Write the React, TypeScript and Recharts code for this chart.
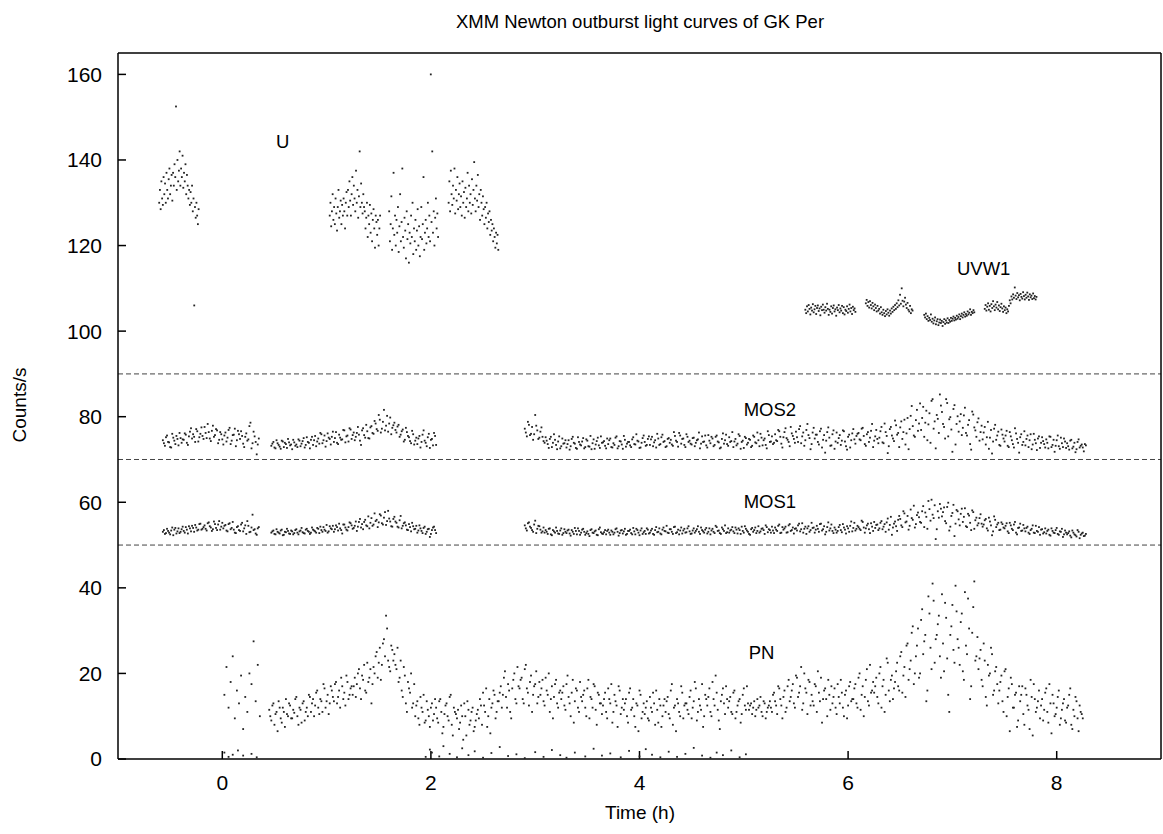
import React from 'react';
import { ScatterChart, Scatter, XAxis, YAxis, ReferenceLine, ReferenceDot } from 'recharts';

// time axis (h) and count axis ticks
const xTicks = [0, 2, 4, 6, 8];
const yTicks = [0, 20, 40, 60, 80, 100, 120, 140, 160];
const bandLines = [90, 70, 50];

// OM U filter, 4 exposures (sampled every uStep hours)
const uStarts = [-0.605, 1.03, 1.6, 2.17];
const uStep = 0.007;
const u1 = [
  130, 133, 128.5, 135, 131, 129.5, 136, 132, 134.5, 130,
  137, 133, 131, 135.5, 138, 132, 134, 136.5, 130.5, 137,
  134, 139, 136, 152.5, 133, 140, 135, 137.5, 142, 134,
  138, 136, 141, 133.5, 137, 135, 139, 132, 136.5, 134,
  131, 133, 129.5, 132.5, 130, 134, 128, 131, 106, 129,
  126.5, 130, 127, 125, 128.5,
];
const u2 = [
  127, 130, 124.5, 128, 132, 126, 129, 125, 131, 127.5,
  123.5, 129, 133, 126.5, 128, 130.5, 125, 129.5, 127, 131,
  128, 124, 130, 132.5, 127,
  133, 129, 135, 130.5, 127, 132, 136, 129.5, 134, 131,
  128, 137.5, 130, 133, 126.5, 131.5, 142, 129, 134.5, 130,
  127.5, 132, 129,
  128, 124, 126.5, 130, 122, 127, 125, 129.5, 123, 127.5,
  121, 126, 128.5, 124, 119.5, 127, 125.5, 122.5, 126, 120,
  124, 127,
];
const u3 = [
  128, 121, 125, 131.5, 119, 124, 137, 122.5, 127, 120,
  126, 123, 129, 118.5, 124.5, 132, 121, 125.5, 138, 122,
  119.5, 126.5, 123.5, 117, 128, 121.5, 125, 116, 123, 120.5,
  127, 122, 130, 118, 124, 121, 126, 119, 123.5, 128.5,
  120, 124.5, 117.5, 122, 129, 121.5, 125, 136, 119, 123,
  126, 120.5, 124, 130, 122, 127, 121, 160, 125.5, 142,
  123, 128, 120, 126.5, 131, 124, 127.5, 122,
];
const u4 = [
  130, 135, 128, 137.5, 132, 129.5, 134, 131, 138, 127.5,
  133, 130.5, 136, 128.5, 132, 134.5, 129, 131.5, 127, 135,
  130, 132.5, 126.5, 133.5, 129, 131, 137, 128, 134, 130,
  132, 127.5, 135.5, 129.5, 133, 139.5, 131, 128, 134, 130.5,
  136.5, 129, 132, 126, 133, 130, 127, 131.5, 128.5, 125,
  129, 126.5, 130, 124, 127.5, 125.5, 128, 122.5, 126, 123.5,
  125, 121, 124, 122, 119.5, 123, 120.5, 122.5, 119,
];

// OM UVW1 filter, 4 exposures
const uvwStarts = [5.59, 6.17, 6.73, 7.31];
const uvwStep = 0.008;
const uvw1 = [
  105, 104.2, 105.8, 104.6, 106.1, 105.2, 103.9, 105.5, 104.8, 106.3,
  104.4, 105.1, 105.9, 104, 105.4, 106, 104.7, 105.3, 103.7, 105.7,
  104.9, 106.2, 105, 104.3, 105.6, 104.8, 106.4, 105.2, 103.8, 105,
  104.5, 105.8, 104.1, 105.4, 106, 104.6, 105.1, 103.6, 105.5, 104.9,
  106.1, 104.4, 105.3, 104.8, 105.9, 104.2, 105.6, 103.9, 105, 104.7,
  105.8, 104.3, 105.2, 106.2, 104.6, 105.4, 104, 105.7, 104.9, 105.3, 104.5,
];
const uvw2 = [
  106.5, 107.3, 105.9, 106.8, 105.5, 107, 106.1, 105.3, 106.6, 105.8,
  104.9, 106.2, 105.4, 104.6, 105.9, 104.8, 105.2, 104.1, 105.6, 104.4,
  103.8, 105, 104.2, 103.5, 104.7, 103.9, 105.1, 104.3, 103.6, 104.8,
  104.1, 105.3, 104.5, 105.7, 104.9, 106.1, 105.2, 106.5, 105.6, 107.2,
  106, 108.5, 106.4, 110, 107.1, 105.8, 106.9, 107.8, 106.2, 105.4,
  106.6, 105, 104.6, 105.9, 104.2, 105.1, 104.8,
];
const uvw3 = [
  103.8, 103.2, 104.1, 102.8, 103.5, 102.4, 103.1, 102.6, 103.9, 102.2,
  102.9, 101.8, 102.5, 103.2, 101.6, 102.3, 102.8, 101.4, 102, 102.7,
  101.9, 102.4, 101.2, 102.1, 102.8, 101.7, 102.5, 102, 103, 101.9,
  102.6, 102.2, 103.1, 102.4, 102.9, 103.4, 102.5, 103.1, 102.7, 103.6,
  102.9, 103.3, 103.9, 102.8, 103.5, 104.1, 103.2, 103.8, 104.4, 103.4,
  104, 103.6, 104.6, 103.9, 104.3, 105.1, 103.8, 104.5, 104.2, 104.9, 104.4,
];
const uvw4 = [
  105.2, 106.1, 104.8, 105.7, 106.5, 105, 105.9, 104.6, 106.3, 105.4,
  107, 105.8, 104.9, 106.2, 105.5, 106.8, 105.1, 106, 104.7, 105.6,
  106.4, 105.3, 104.5, 105.8, 104.9, 105.5, 104.2, 105.1, 104.6, 105.9,
  107.2, 106.5, 108.1, 107.4, 108.6, 107.8, 110.2, 108.3, 107.5, 108.9,
  107.9, 108.4, 107.2, 108.7, 108, 107.6, 109.1, 108.2, 107.4, 108.5,
  107.8, 109, 108.1, 107.3, 108.6, 107.9, 108.3, 107.5, 108.8, 107.7,
  108.2, 107.4, 108,
];

// EPIC MOS: two interleaved passes, each sampled every mosStep hours
const mosStarts = [-0.57, 0.47, 2.9];
const mosStarts2 = [-0.56, 0.48, 2.91];
const mosStep = 0.02;

// MOS2 (offset +70)
const mos2A = [
  74.5, 73.2, 75.6, 74, 72.8, 75.1, 73.6, 74.8, 76.2, 73.9,
  74.6, 75.8, 73.4, 76.5, 74.9, 75.3, 77.1, 74.2, 76, 75.5,
  77.6, 75, 76.4, 74.3, 77.9, 75.7, 76.8, 74.6, 75.9, 73.5,
  76.3, 75.1, 77.4, 74.4, 75.8, 73.1, 76.7, 74.8, 75.5, 72.9,
  76.1, 74.7, 78.6, 73.8, 75.4, 71.2, 74.9,
];
const mos2A2 = [
  73.8, 75.2, 74.1, 72.9, 76, 74.4, 75.5, 73.3, 75, 74.7,
  76.1, 73.9, 75.4, 77.3, 75.9, 74.1, 76.6, 75.2, 77.5, 74.8,
  76.2, 78.3, 74.9, 76.7, 75.3, 77.1, 73.8, 76.4, 74.7, 75.6,
  74.2, 76.9, 73.6, 75.7, 77.2, 74.5, 75.9, 76.6, 73.7, 75.3,
  74.4, 77.8, 72.6, 76.5, 74.1, 73.5,
];
const mos2B = [
  73.2, 74.1, 72.6, 73.8, 73, 74.4, 72.9, 73.6, 74.8, 73.3,
  72.4, 74, 73.5, 74.7, 73.1, 74.3, 72.8, 75.2, 73.9, 74.6,
  73.4, 75.5, 74.2, 73.7, 75.9, 74.5, 73, 76.1, 74.8, 75.3,
  74.1, 76.4, 73.6, 75.1, 74.7, 76.8, 75.4, 74.2, 77, 75.7,
  74.5, 76.2, 75.8, 73.4, 77.3, 75.1, 76.6, 74.9, 77.8, 76,
  78.4, 76.7, 79.3, 77.2, 81.6, 77.9, 76.5, 79.8, 77.4, 78.6,
  76.3, 78.1, 75.8, 77, 74.6, 76.4, 75.2, 73.8, 75.9, 74.4,
  73.6, 75.5, 74.1, 76.8, 73.9, 75.2, 72.7, 74.8, 76.2, 73.4,
];
const mos2B2 = [
  73.7, 72.8, 74.5, 73.4, 72.5, 74.2, 73.9, 72.7, 74, 73.5,
  74.6, 73.2, 72.9, 74.4, 73.7, 75, 73.4, 74.1, 72.6, 75.3,
  74.5, 73.1, 74.9, 76.2, 73.8, 75.6, 74.3, 75.1, 73.5, 76.5,
  75, 73.9, 75.8, 74.6, 76.9, 74, 75.6, 77.3, 74.8, 76.3,
  75.3, 77.6, 74.4, 76.8, 75.7, 78.1, 75, 77.5, 76.2, 79,
  77.1, 80.4, 76.3, 78.8, 76.8, 80.2, 78.4, 75.9, 78, 76.9,
  77.7, 75.3, 76.6, 74.2, 77.4, 75.5, 74.3, 76.7, 73.5, 75.1,
  74.9, 72.8, 75.8, 74.4, 73.1, 76, 74.6, 73.3, 75.5,
];
const mos2C = [
  77.2, 75.4, 78.1, 76, 74.6, 80.4, 76.8, 75.1, 77.5, 74.3,
  75.2, 73.6, 74.8, 72.9, 75.9, 73.4, 74.2, 72.6, 74.9, 73.8,
  72.8, 74.5, 73.1, 75.3, 73.7, 72.5, 74.1, 73.3, 75, 72.9,
  74.4, 73, 72.4, 74.7, 73.5, 75.1, 72.7, 73.9, 74.3, 72.6,
  73.6, 74.9, 72.8, 73.4, 75.4, 73.1, 74.2, 72.5, 74.6, 73.7,
  74.1, 72.9, 75.2, 73.5, 74.4, 72.7, 73.9, 75.6, 73.2, 74.8,
  73.4, 75.3, 74, 72.8, 74.9, 73.6, 75.8, 74.3, 73.1, 75,
  74.6, 73.2, 75.5, 74.1, 76.2, 73.7, 74.9, 72.9, 75.3, 74.4,
  73.5, 75.1, 73.9, 74.7, 72.6, 75.4, 74.2, 73.3, 75.7, 73.8,
  74.9, 73.4, 75.6, 74, 72.8, 76.1, 74.5, 73.6, 75.2, 74.3,
  72.9, 74.8, 73.7, 75.5, 74.1, 72.7, 75, 73.9, 74.6, 73.2,
  75.3, 73.8, 74.5, 76, 73.3, 74.9, 72.6, 75.7, 74.2, 73.6,
  75.9, 74.3, 76.6, 73.7, 75.2, 77.3, 74.6, 73.1, 76.1, 74.8,
  76.5, 74.1, 77.8, 75.4, 73.2, 76.9, 75.7, 72.4, 76.3, 74.9,
  75.8, 73.5, 77.2, 74.6, 71.6, 76.4, 75.1, 73.3, 76.8, 74.2,
  73.9, 75.7, 74.4, 76.6, 73.1, 75.3, 72.8, 76.1, 74.7, 75.5,
  76.2, 74.5, 77.4, 73.6, 75.9, 74.1, 76.7, 72.9, 75.4, 74.8,
  75.1, 77.6, 73.8, 76.4, 71.5, 77.1, 75.6, 74.3, 78, 76.2,
  77.5, 74.8, 79.3, 76.1, 72.4, 80.2, 77.8, 75.3, 81.6, 78.4,
  76.9, 82.3, 78.6, 74.5, 80.8, 83.7, 77.2, 72.6, 79.5, 85.2,
  81.1, 77.6, 84.1, 75.4, 79.9, 71.8, 82.7, 78.3, 76.5, 80.6,
  77.4, 82.1, 75.6, 79.2, 72.3, 80.5, 76.8, 78.7, 74.4, 77.9,
  76.3, 73.5, 78.8, 75.1, 71.4, 77.2, 74.6, 76.5, 73.2, 75.8,
  74.2, 76.7, 72.9, 75.4, 73.6, 77.3, 74.8, 71.6, 75.9, 74.1,
  73.3, 75.6, 74.5, 72.4, 76, 73.8, 74.9, 72.7, 75.2, 73.6,
  74.7, 72.6, 75.3, 73.4, 71.8, 74.5, 73.1, 75.1, 72.9, 74.2,
  73.8, 72.3, 74.6, 73, 71.7, 74.1, 72.8, 73.5, 71.9, 73.3,
];
const mos2C2 = [
  76.3, 78.8, 75.7, 77.6, 75.9, 77.9, 74.8, 76.5, 75.3, 73.9,
  74.4, 72.7, 75.3, 73.9, 74.6, 72.4, 75.4, 73.1, 73.7, 74.5,
  73.6, 72.3, 74.8, 73.9, 72.7, 75.2, 73.5, 74.2, 72.6, 74.7,
  73.1, 75.5, 73.8, 72.5, 74.3, 73.3, 75.4, 74, 73.2, 74.9,
  74.5, 72.9, 73.8, 75.1, 72.6, 74.3, 73.5, 75.5, 73, 74.1,
  73.3, 74.7, 73.6, 75.9, 74.2, 72.8, 75, 74.1, 73.4, 75.4,
  74.7, 73.1, 74.5, 76, 73.4, 75.2, 74.1, 72.9, 74.8, 73.9,
  73.5, 76.4, 74.4, 73, 75.6, 74.8, 73.4, 75.9, 74.1, 73.7,
  75, 73.1, 74.5, 76.3, 73.7, 74.1, 75.6, 72.8, 74.4, 75.3,
  73.1, 75.3, 74.2, 72.6, 74.8, 73.7, 75.8, 73.2, 74.1, 76.4,
  74.2, 73.3, 75.9, 72.5, 74.4, 75.3, 73.5, 74.8, 72.9, 75.6,
  74, 76.3, 73.1, 75.1, 74.5, 73.4, 76.6, 74.1, 75.4, 73.9,
  74.5, 76.9, 75.3, 72.8, 76.4, 75, 74.1, 77.6, 75.5, 73.9,
  75.2, 77.1, 73.8, 76.3, 74.5, 78.3, 75, 73.6, 77.4, 75.8,
  74.1, 76.6, 72.8, 75.7, 74.4, 77.5, 73.2, 75.9, 72.5, 76.3,
  75, 73.4, 76.8, 74.2, 72.3, 75.8, 74.5, 77.1, 73.7, 76,
  74.7, 77.2, 75.5, 73.2, 76.4, 75.1, 78.3, 74.4, 76.9, 73.8,
  76.6, 74, 78.4, 75.5, 73.1, 77.6, 74.9, 79.1, 75.8, 72.9,
  78.9, 76.4, 73.5, 79.7, 77.1, 82.5, 75.6, 79.2, 76.7, 83.1,
  79.7, 75.3, 81.4, 78.2, 73.9, 84.1, 78.9, 80.4, 76.2, 82.6,
  78.3, 74.9, 83.2, 79.4, 77, 81.8, 73.5, 80.1, 78.9, 75.7,
  80.3, 76.2, 78.1, 73.6, 81.2, 77.5, 75.3, 79.6, 76.4, 74.7,
  77.6, 75.2, 72.5, 76.9, 74.2, 78.1, 75.6, 73.4, 77, 74.9,
  75.6, 73.2, 76.4, 74.5, 72.8, 76.1, 73.9, 75.2, 73.4, 76.6,
  74.8, 72.9, 75.9, 73.5, 74.6, 72.2, 75.4, 73.9, 74.3, 72.8,
  73.9, 75.4, 72.9, 74.6, 73.2, 75.6, 72.5, 73.8, 74.9, 72.7,
  73.1, 74.4, 72.6, 73.9, 72.4, 74.7, 73.2, 72.8, 73.6,
];

// MOS1 (offset +50)
const mos1A = [
  53.1, 52.6, 53.8, 52.9, 53.4, 52.3, 54, 53.2, 52.8, 53.7,
  53.3, 54.2, 52.7, 53.9, 54.5, 53.1, 54.1, 53.6, 55, 53.8,
  54.6, 53.4, 55.3, 54.1, 53.7, 54.9, 53.5, 55.6, 54.3, 53.9,
  54.7, 53.2, 55.1, 54, 53.6, 52.8, 54.4, 53.3, 55.2, 53.9,
  52.6, 54.5, 53.1, 57.1, 53.7, 52.4, 54.2,
];
const mos1A2 = [
  53.5, 52.8, 53.3, 52.5, 54.1, 53.6, 52.7, 53.9, 53.1, 54.3,
  52.9, 53.6, 54.4, 53.2, 54, 54.7, 53.4, 54.9, 53.6, 54.2,
  53.8, 55.1, 54.4, 53.3, 55.5, 54, 54.8, 53.6, 55.2, 54.5,
  53.4, 54.9, 53.7, 55.4, 52.9, 54.2, 53.5, 54.8, 53.2, 54.6,
  55.6, 53, 54.1, 53.5, 52.7, 53.9,
];
const mos1B = [
  52.9, 53.4, 52.5, 53.1, 52.7, 53.6, 52.4, 53, 53.3, 52.6,
  53.2, 52.8, 53.7, 52.5, 53.4, 53, 52.7, 53.8, 53.1, 52.9,
  53.6, 53.2, 54, 52.8, 53.5, 54.2, 53.3, 52.9, 54.4, 53.7,
  53.1, 54.6, 53.4, 53.9, 52.7, 54.8, 53.6, 54.2, 55.1, 53.8,
  54.5, 53.3, 55.4, 54.1, 53.7, 55.9, 54.4, 53.9, 56.3, 54.8,
  55.6, 54.2, 57.2, 55.1, 56.4, 54.7, 58, 55.5, 54.3, 56.6,
  55.2, 54.1, 56.8, 54.5, 55.3, 53.6, 54.9, 53.2, 54.4, 53.8,
  52.9, 54.6, 53.3, 54, 52.6, 53.7, 51.9, 53.5, 54.3, 52.8,
];
const mos1B2 = [
  53.2, 52.6, 53.7, 52.9, 53.4, 52.3, 53.1, 53.8, 52.7, 53.4,
  52.5, 53.5, 52.9, 53.2, 54, 52.8, 53.6, 53.3, 52.6, 54.1,
  53.4, 52.9, 53.8, 54.3, 53.1, 53.6, 54.7, 53.2, 53.9, 54.5,
  53.7, 54.2, 55, 53.5, 54.8, 54.1, 53.4, 55.3, 54.6, 54,
  55.5, 54.3, 56.1, 54.9, 55.4, 54.6, 56.7, 55.2, 54.5, 57.4,
  55.9, 55.3, 56.9, 54.8, 57.7, 55.6, 56.2, 54.4, 56.1, 55.5,
  54.3, 55.8, 53.9, 55.1, 54.6, 53.5, 54.2, 55.2, 53.7, 54.5,
  53.4, 53.9, 52.8, 54.3, 53.1, 53.8, 52.6, 54.1, 53.5,
];
const mos1C = [
  54.6, 53.4, 55.3, 54, 53.1, 55.7, 53.8, 54.4, 52.9, 54.1,
  53.5, 52.6, 53.9, 52.3, 53.2, 54.1, 52.7, 53.4, 52.4, 53.7,
  52.8, 53.6, 52.2, 53.1, 54, 52.5, 53.3, 52.9, 53.8, 52.4,
  53.2, 52.1, 53.7, 52.8, 53.4, 52.3, 54.1, 52.7, 53, 52.5,
  53.6, 52.4, 53.1, 52.9, 53.9, 52.2, 53.4, 52.7, 53.8, 52.6,
  53.3, 52.8, 54, 52.5, 53.5, 52.3, 53.9, 53, 52.6, 53.6,
  52.9, 53.8, 52.4, 54.2, 53.1, 52.7, 53.6, 53.3, 54.5, 52.8,
  53.7, 52.6, 54.3, 53, 52.5, 54.1, 53.4, 52.9, 53.9, 53.2,
  52.7, 53.9, 53.3, 54.4, 52.6, 53.5, 52.9, 54, 53.1, 52.5,
  53.8, 52.8, 54.2, 53.4, 52.6, 53.7, 54.6, 53, 52.9, 53.6,
  53.2, 54.1, 52.7, 53.5, 54.3, 52.9, 53.8, 53.1, 52.4, 54,
  53.5, 52.8, 54.4, 53.2, 53.9, 52.6, 54.2, 53.7, 52.9, 53.4,
  54.1, 53.3, 54.8, 52.9, 53.6, 54.3, 53, 54.9, 53.5, 52.7,
  53.9, 54.6, 53.2, 55.1, 53.8, 52.6, 54.4, 53.5, 54, 52.9,
  54.5, 53.1, 55, 53.7, 52.5, 54.2, 53.4, 54.8, 52.8, 53.6,
  53.3, 54.7, 53, 54.1, 52.7, 53.9, 54.5, 53.2, 55.2, 53.8,
  54.2, 53.5, 55.4, 52.9, 54.6, 53.7, 55.1, 53.3, 54, 54.8,
  53.9, 55.6, 54.3, 53.1, 56.2, 54.7, 52.4, 55, 54.4, 55.9,
  56.1, 54.2, 57.4, 55.5, 53.6, 58.3, 55.9, 54.1, 57, 56.5,
  55.2, 59.1, 57.6, 53.8, 58.4, 60.6, 56.3, 51.4, 57.9, 59.6,
  56.7, 58.8, 55.1, 59.9, 54.3, 57.5, 52.1, 58.2, 56, 57.3,
  55.4, 58.6, 54.2, 56.9, 53.5, 57.7, 55.8, 54.6, 56.3, 55,
  54.8, 56.1, 53.4, 55.5, 52.3, 56.7, 54.2, 55.2, 53.6, 54.9,
  53.9, 55.1, 52.8, 54.6, 53.5, 55.4, 52.5, 54.1, 53.3, 54.7,
  53.2, 54.3, 52.6, 53.8, 52.9, 54.5, 53.1, 52.4, 53.7, 53,
  52.7, 53.6, 52.2, 53.3, 52.8, 54, 52.4, 53.1, 51.9, 53.4,
  52.5, 53.2, 51.8, 52.9, 52.3, 53.5, 51.6, 52.7, 52.1, 52.6,
];
const mos1C2 = [
  53.9, 55.1, 54.3, 53.5, 54.8, 52.8, 54.5, 53.6, 53.2, 52.9,
  53.1, 53.8, 52.5, 53.5, 52.9, 53.3, 52.6, 53.9, 52.8, 53.1,
  53.4, 52.7, 53.5, 52.6, 53.3, 53.9, 52.4, 53.6, 53.1, 52.8,
  52.6, 53.5, 52.9, 53.2, 52.4, 53.7, 53, 52.6, 53.5, 53.3,
  52.9, 53.4, 52.5, 53.7, 53.1, 52.8, 53.5, 53.2, 52.4, 53.3,
  53.6, 52.5, 53.2, 53.8, 52.9, 53.4, 52.6, 53.3, 53.9, 52.7,
  53.4, 52.6, 53.5, 53, 53.9, 52.5, 54.1, 53.2, 52.9, 53.7,
  53.1, 54.2, 52.8, 53.6, 53.4, 52.7, 53.8, 53, 54.4, 52.6,
  53.4, 52.9, 53.7, 53.1, 54.1, 53.2, 53.6, 52.7, 53.9, 53.4,
  53.1, 54.5, 53.3, 52.8, 54.1, 53.3, 52.8, 53.9, 53.4, 54.2,
  52.8, 53.6, 53.9, 52.6, 53.3, 54.4, 53.4, 52.6, 53.7, 53.1,
  54.1, 53.3, 52.9, 53.8, 53.5, 54.6, 53, 53.5, 54.3, 52.8,
  53.6, 54.5, 52.8, 54.2, 53.9, 52.9, 54.6, 53.3, 54.1, 53.8,
  53.4, 55, 53.7, 52.9, 54.3, 53.9, 53.1, 55.2, 54.1, 53.6,
  53.8, 54.9, 53.4, 54.4, 53.1, 55.3, 53.9, 53.3, 54.1, 52.9,
  54.2, 53.5, 54.9, 53.6, 54.4, 53.1, 55.5, 54, 53.4, 54.5,
  53.8, 55.7, 54.1, 53.9, 55, 52.8, 54.3, 55.4, 54.7, 53.5,
  55.2, 53.7, 54.9, 55.3, 53.6, 56.6, 54.1, 55.5, 53.3, 56.8,
  54.6, 57.9, 55.3, 56.8, 54.5, 56.3, 59.2, 54.9, 57.6, 55.4,
  57.9, 54.2, 56.6, 60.3, 55.7, 57.1, 59.3, 53.7, 56.4, 58.5,
  57.7, 55.6, 58.9, 53.4, 56.8, 59.4, 55, 57.9, 54.6, 58.5,
  56.6, 54.4, 57.3, 55.2, 58.1, 53.8, 56.4, 55.1, 57.2, 54.3,
  55.8, 53.9, 56.4, 54.6, 53.2, 55.9, 54.8, 53.5, 55.3, 54.1,
  54.5, 53.2, 55.2, 53.8, 54.8, 52.9, 54, 55, 53.4, 53.9,
  54, 52.9, 53.5, 54.6, 52.8, 53.3, 54.2, 53.6, 52.7, 53.9,
  53.3, 52.4, 53.9, 52.9, 53.5, 52.6, 53.2, 53.8, 52.5, 52.9,
  52.8, 52.2, 53.4, 52.5, 52, 53.1, 52.4, 52.9, 52.2,
];

// EPIC PN, two interleaved passes
const pnStarts = [0.02, 0.45];
const pnStarts2 = [0.46];
const pnStep = 0.02;
const pnA = [15, 21.5, 12, 18, 24, 9.5, 16, 13, 19.5, 7, 14.5, 11, 20, 17.5, 27.5, 13.5, 22, 10];
const pnB = [
  11.5, 9, 13, 10.5, 6.5, 12, 8.5, 11, 14, 10,
  12.5, 9.5, 10.8, 14.5, 8, 11.5, 13, 9, 12, 15,
  11, 14, 12.5, 16, 10.5, 13.5, 17.5, 12, 15, 13,
  16, 13.5, 18, 14.5, 12, 17, 15.5, 19.5, 14, 16.5,
  15, 19, 17.5, 21, 14, 18.5, 16, 22.5, 19, 13,
  21.5, 24, 19, 26, 22, 28, 33.5, 23, 20.5, 25.5,
  24.5, 21, 18, 23, 14.5, 19.5, 11, 16.5, 20, 13,
  10, 13.5, 8, 12, 15, 9, 11.5, 7.5, 13, 10.5,
  12, 8.5, 14, 6, 10.5, 13, 9, 15, 5.5, 11,
  9.5, 7, 12.5, 4.5, 10, 13.5, 8, 11, 6.5, 9,
  11.5, 14, 8, 12.5, 16.5, 10, 6, 13, 15, 11,
  13.5, 17, 15, 20.5, 12, 16, 9.5, 18.5, 14, 21.5,
  16.5, 19, 13, 22, 15.5, 18, 11, 17, 20.5, 14.5,
  15, 18.5, 12.5, 16, 20, 14, 9.5, 17.5, 13, 15.5,
  14, 17, 11.5, 19.5, 13, 15.5, 8.5, 16.5, 12, 18,
  13.5, 16, 10, 18.5, 14.5, 12, 17, 8, 15, 13,
  12.5, 15.5, 9.5, 14, 17.5, 11, 13.5, 7.5, 16, 12,
  11.5, 14, 8.5, 16.5, 12, 10, 13, 6.5, 15, 11,
  10.5, 13.5, 9, 12, 15.5, 8, 11.5, 14, 7.5, 12.5,
  11, 14.5, 9.5, 17.5, 12, 6.5, 13, 10, 15.5, 12.5,
  13, 10.5, 16, 12, 18, 9, 14, 11.5, 7.5, 15,
  12.5, 16.5, 10, 14, 19.5, 11.5, 7, 15, 13, 17,
  12, 14.5, 10.5, 16, 11, 13.5, 8.5, 15, 12.5, 17,
  11.5, 13, 12, 10, 14, 12.5, 11, 13.5, 9.5, 12,
  13.5, 11, 15.5, 12.5, 17, 14, 9.5, 16, 12, 18.5,
  14.5, 17.5, 12, 19, 15.5, 21.5, 13, 16.5, 10.5, 18,
  15, 12.5, 17, 20.5, 13.5, 8.5, 16, 14, 18.5, 11.5,
  13, 16.5, 10.5, 14.5, 18.5, 12, 15, 9.5, 17, 13.5,
  14, 17.5, 12, 20, 15, 10, 18.5, 13.5, 22, 16,
  15.5, 19, 13, 21.5, 17, 11, 23.5, 16, 18.5, 14,
  18, 22.5, 16, 25, 19.5, 14.5, 27, 21, 29.5, 17.5,
  24, 30.5, 20, 35, 27.5, 13.5, 38, 26, 41, 22.5,
  29, 33.5, 19, 27, 36.5, 23.5, 11, 31, 25.5, 40.5,
  28, 22, 34, 18.5, 26.5, 37.5, 14, 29.5, 41.5, 24,
  21, 25.5, 17, 23, 12.5, 19.5, 26, 15, 20.5, 17.5,
  16, 19.5, 11, 21, 14.5, 6.5, 17.5, 12, 15.5, 9,
  13.5, 17, 8, 15, 11.5, 18.5, 5.5, 14, 12, 16,
  12.5, 9, 15.5, 11, 17.5, 6, 13, 10.5, 14.5, 8,
  11.5, 14, 8.5, 12.5, 16.5, 7, 10, 13.5, 6.5, 11,
  9.5,
];
const pnB2 = [
  10, 12.5, 8, 11, 13.5, 9.5, 12, 7.5, 10.5, 13,
  9.5, 11.5, 14, 10, 12, 8.5, 13.5, 11, 10, 14.5,
  13, 10, 15.5, 12, 14, 11, 16.5, 13.5, 10.5, 17,
  14.5, 17.5, 13, 16, 19, 14, 12.5, 18, 15, 17,
  17, 14.5, 20, 16.5, 19.5, 22, 15.5, 18, 21, 17.5,
  20, 25, 22.5, 18.5, 27, 24, 30.5, 21.5, 26.5, 23,
  22, 26, 19, 16, 21.5, 13, 18, 15.5, 12, 17.5,
  12.5, 9.5, 14.5, 11, 8.5, 13.5, 10, 12, 9, 14,
  9.5, 13.5, 11, 7.5, 12.5, 10, 14.5, 8, 12, 10.5,
  11.5, 8.5, 10, 13, 5.5, 11.5, 9, 12, 7.5, 10.5,
  9.5, 12.5, 15.5, 11, 7.5, 14, 12, 16, 9.5, 13.5,
  15.5, 12, 19, 14.5, 17.5, 11, 16.5, 20, 13, 17,
  18.5, 14, 21, 16.5, 12.5, 19.5, 15, 17.5, 13, 18,
  16.5, 13.5, 19, 15, 11, 17, 14.5, 18.5, 12, 16,
  15.5, 12.5, 17.5, 14.5, 10, 18.5, 13.5, 16, 11, 14.5,
  15, 12, 16.5, 9.5, 14, 17.5, 11.5, 15.5, 13, 10.5,
  14, 11, 16.5, 13, 8.5, 15, 12.5, 17, 10.5, 14,
  13, 10, 15.5, 11.5, 14, 7.5, 12.5, 16, 9.5, 13,
  12, 9.5, 14.5, 11, 13, 16, 8.5, 12.5, 10, 14,
  13.5, 10.5, 16, 8, 12.5, 14, 11, 17, 9.5, 13,
  11.5, 14.5, 9.5, 13.5, 16.5, 11, 12.5, 17.5, 10, 14,
  14.5, 11, 18, 12.5, 15.5, 9, 13.5, 16.5, 10.5, 14,
  13.5, 11, 15.5, 9.5, 12.5, 14, 10.5, 16.5, 11.5, 13,
  12.5, 10.5, 13.5, 11.5, 12, 14.5, 10, 13, 11, 12.5,
  12, 15, 13.5, 10.5, 16.5, 12.5, 14.5, 11, 17, 13.5,
  16, 13, 19.5, 14.5, 17, 11.5, 20, 15.5, 18.5, 12.5,
  13.5, 17.5, 11, 15.5, 19, 14, 16.5, 10, 15, 17,
  14.5, 12, 17.5, 13, 15.5, 10, 16, 12.5, 18, 14,
  16.5, 13, 19, 11.5, 17, 14.5, 21, 12.5, 15.5, 18,
  17, 14.5, 20, 12, 18.5, 15, 22.5, 13.5, 19.5, 16.5,
  20.5, 17, 24, 15.5, 21.5, 26.5, 18.5, 23, 31, 20,
  26.5, 19, 32.5, 24.5, 29, 16, 34, 21, 37, 28,
  31.5, 24, 38.5, 20.5, 33, 15, 29, 36, 22.5, 34.5,
  26, 32, 20.5, 39, 24.5, 30.5, 17, 35.5, 23, 28.5,
  23.5, 18.5, 27, 14.5, 22, 20, 24.5, 16, 21.5, 13,
  18, 13.5, 20.5, 10, 16.5, 19, 12, 15, 7.5, 17,
  15, 10.5, 16.5, 12.5, 7, 14.5, 17.5, 11, 13.5, 9.5,
  14, 11.5, 16.5, 8.5, 13, 15, 10, 12, 16, 9.5,
  13, 9, 12, 15, 8, 11.5, 14.5, 9.5, 12.5, 10.5,
];
// PN bins with near-zero counts
const pnLowT = [
  0.02, 0.06, 0.1, 0.15, 0.2, 0.28, 0.33, 1.95, 1.99, 2.01, 2.08, 2.12, 2.18, 2.25, 2.3, 2.36,
  2.42, 2.5, 2.58, 2.66, 2.74, 2.82, 2.9, 3.0, 3.08, 3.16, 3.24, 3.3, 3.38, 3.48, 3.56, 3.64,
  3.72, 3.82, 3.9, 4.0, 4.06, 4.12, 4.2, 4.28, 4.36, 4.44, 4.52, 4.6, 4.68, 4.74, 4.8, 4.88, 4.96, 5.02,
];
const pnLowY = [
  1.5, 0.5, 1, 2, 0.8, 1.2, 0.4, 0.5, 2.2, 1.5, 0.6, 3, 1.2, 0.4, 2.5, 0.9,
  1.8, 0.3, 1.4, 2.8, 0.7, 1.1, 0.2, 1.6, 0.5, 2.1, 0.9, 0.3, 1.5, 0.6, 2.4, 0.8,
  1.3, 0.4, 1.9, 0.6, 2.3, 1, 0.4, 1.7, 0.5, 1.2, 2.6, 0.8, 0.3, 1.5, 0.9, 2, 0.4, 1.1,
];

const toPoints = (starts: number[], step: number, segs: number[][]) =>
  segs.flatMap((ys, k) => ys.map((v, i) => ({ t: starts[k] + i * step, v })));

const uData = toPoints(uStarts, uStep, [u1, u2, u3, u4]);
const uvwData = toPoints(uvwStarts, uvwStep, [uvw1, uvw2, uvw3, uvw4]);
const mos2Data = [
  ...toPoints(mosStarts, mosStep, [mos2A, mos2B, mos2C]),
  ...toPoints(mosStarts2, mosStep, [mos2A2, mos2B2, mos2C2]),
];
const mos1Data = [
  ...toPoints(mosStarts, mosStep, [mos1A, mos1B, mos1C]),
  ...toPoints(mosStarts2, mosStep, [mos1A2, mos1B2, mos1C2]),
];
const pnData = [
  ...toPoints(pnStarts, pnStep, [pnA, pnB]),
  ...toPoints(pnStarts2, pnStep, [pnB2]),
  ...pnLowT.map((t, i) => ({ t, v: pnLowY[i] })),
];

const FONT = '"Liberation Sans", Arial, Helvetica, sans-serif';

const Dot = (props: any) => (
  <rect x={props.cx - 0.9} y={props.cy - 0.9} width={1.8} height={1.8} fill="#222" />
);

const labels = [
  { x: 0.58, y: 144.4, text: 'U' },
  { x: 7.3, y: 114.7, text: 'UVW1' },
  { x: 5.25, y: 81.8, text: 'MOS2' },
  { x: 5.25, y: 60.3, text: 'MOS1' },
  { x: 5.17, y: 25, text: 'PN' },
];

export default function App() {
  const axisStroke = { stroke: '#000', strokeWidth: 1.5 };
  const tickStyle = { fill: '#000', fontSize: 21, fontFamily: FONT };
  const series = [uData, uvwData, mos2Data, mos1Data, pnData];
  return (
    <div style={{ position: 'absolute', left: 0, top: 0, width: 1163, height: 834, background: '#fff', fontFamily: FONT }}>
      <div style={{ position: 'absolute', left: 640, top: 22, transform: 'translate(-50%, -50%)', fontSize: 18.5, whiteSpace: 'nowrap' }}>
        XMM Newton outburst light curves of GK Per
      </div>
      <div style={{ position: 'absolute', left: 20, top: 405, transform: 'translate(-50%, -50%) rotate(-90deg)', fontSize: 19, whiteSpace: 'nowrap' }}>
        Counts/s
      </div>
      <div style={{ position: 'absolute', left: 640, top: 813, transform: 'translate(-50%, -50%)', fontSize: 19, whiteSpace: 'nowrap' }}>
        Time (h)
      </div>
      <ScatterChart width={1163} height={834} margin={{ top: 0, right: 0, bottom: 0, left: 0 }}>
        <XAxis xAxisId="bottom" dataKey="t" type="number" domain={[-1, 9]} ticks={xTicks} allowDataOverflow
          height={75} tickSize={-8} tickMargin={24} axisLine={axisStroke} tickLine={axisStroke} tick={tickStyle} />
        <XAxis xAxisId="top" orientation="top" type="number" domain={[-1, 9]} ticks={xTicks} allowDataOverflow
          height={53} tickSize={-8} axisLine={axisStroke} tickLine={axisStroke} tick={false} />
        <YAxis yAxisId="left" dataKey="v" type="number" domain={[0, 165]} ticks={yTicks} allowDataOverflow
          width={118} tickSize={-8} tickMargin={24} axisLine={axisStroke} tickLine={axisStroke} tick={tickStyle} />
        <YAxis yAxisId="right" orientation="right" type="number" domain={[0, 165]} ticks={yTicks} allowDataOverflow
          width={2} tickSize={-8} axisLine={axisStroke} tickLine={axisStroke} tick={false} />
        {bandLines.map((y) => (
          <ReferenceLine key={y} xAxisId="bottom" yAxisId="left" y={y} stroke="#444" strokeWidth={1} strokeDasharray="5 3" />
        ))}
        {series.map((d, i) => (
          <Scatter key={i} xAxisId="bottom" yAxisId="left" data={d} shape={Dot} isAnimationActive={false} />
        ))}
        {labels.map((l) => (
          <ReferenceDot key={l.text} xAxisId="bottom" yAxisId="left" x={l.x} y={l.y} r={0} stroke="none" fill="none"
            label={{ value: l.text, position: 'center', fill: '#000', fontSize: 18.5, fontFamily: FONT }} />
        ))}
      </ScatterChart>
    </div>
  );
}
